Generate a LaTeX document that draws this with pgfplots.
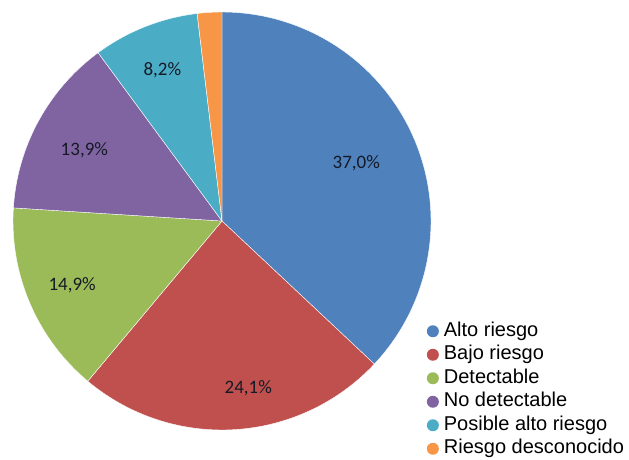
\documentclass[border=0pt]{standalone}
\usepackage{pgfplots}
\pgfplotsset{compat=1.18}
\usepackage{fontspec}
\setmainfont{Liberation Sans}
\newfontfamily\calibri{Carlito}
\definecolor{c1}{HTML}{4F81BD}
\definecolor{c2}{HTML}{C0504D}
\definecolor{c3}{HTML}{9BBB59}
\definecolor{c4}{HTML}{8064A2}
\definecolor{c5}{HTML}{4BACC6}
\definecolor{c6}{HTML}{F79646}
\definecolor{lab}{HTML}{151A26}
% percentages
\def\pA{37.0}\def\pB{24.1}\def\pC{14.9}\def\pD{13.9}\def\pE{8.2}\def\pF{1.9}
\begin{document}
\begin{tikzpicture}
\useasboundingbox (0,0) rectangle (629pt,-460pt);
\pgfmathsetmacro{\sA}{90}
\pgfmathsetmacro{\eA}{\sA-3.6*\pA}
\pgfmathsetmacro{\eB}{\eA-3.6*\pB}
\pgfmathsetmacro{\eC}{\eB-3.6*\pC}
\pgfmathsetmacro{\eD}{\eC-3.6*\pD}
\pgfmathsetmacro{\eE}{\eD-3.6*\pE}
\pgfmathsetmacro{\eF}{\eE-3.6*\pF}
\begin{axis}[
  at={(222pt,-221pt)}, anchor=origin,
  x=209pt, y=209pt,
  xmin=-1, xmax=1, ymin=-1, ymax=1,
  hide axis, clip=false,
  legend image code/.code={\fill[#1, draw=none] (6pt,0pt) circle (6pt);},
  legend style={at={(axis cs:0.965,-0.462)}, anchor=north west,
    draw=none, fill=none,
    font=\fontsize{20}{24}\selectfont,
    nodes={text height=14.5pt, text depth=4.5pt, inner sep=2pt},
    row sep=0.5pt, column sep=3pt},
  legend cell align=left,
]
\addplot[fill=c1, draw=white, line width=0.4pt, domain=\eA:\sA, samples=90] ({cos(x)},{sin(x)}) -- (axis cs:0,0) -- cycle;
\addlegendentry{Alto riesgo}
\addplot[fill=c2, draw=white, line width=0.4pt, domain=\eB:\eA, samples=60] ({cos(x)},{sin(x)}) -- (axis cs:0,0) -- cycle;
\addlegendentry{Bajo riesgo}
\addplot[fill=c3, draw=white, line width=0.4pt, domain=\eC:\eB, samples=40] ({cos(x)},{sin(x)}) -- (axis cs:0,0) -- cycle;
\addlegendentry{Detectable}
\addplot[fill=c4, draw=white, line width=0.4pt, domain=\eD:\eC, samples=40] ({cos(x)},{sin(x)}) -- (axis cs:0,0) -- cycle;
\addlegendentry{No detectable}
\addplot[fill=c5, draw=white, line width=0.4pt, domain=\eE:\eD, samples=30] ({cos(x)},{sin(x)}) -- (axis cs:0,0) -- cycle;
\addlegendentry{Posible alto riesgo}
\addplot[fill=c6, draw=white, line width=0.4pt, domain=\eF:\eE, samples=10] ({cos(x)},{sin(x)}) -- (axis cs:0,0) -- cycle;
\addlegendentry{Riesgo desconocido}
\tikzset{lbl/.style={font=\calibri\fontsize{19}{21}\selectfont, text=lab}}
\node[lbl] at (axis cs:{0.70*cos((\sA+\eA)/2)},{0.70*sin((\sA+\eA)/2)}) {37,0\%};
\node[lbl] at (axis cs:{0.81*cos((\eA+\eB)/2+5.5)},{0.81*sin((\eA+\eB)/2+5.5)}) {24,1\%};
\node[lbl] at (axis cs:{0.78*cos((\eB+\eC)/2)},{0.78*sin((\eB+\eC)/2)}) {14,9\%};
\node[lbl] at (axis cs:{0.74*cos((\eC+\eD)/2+1.5)},{0.74*sin((\eC+\eD)/2+1.5)}) {13,9\%};
\node[lbl] at (axis cs:{0.775*cos((\eD+\eE)/2)},{0.775*sin((\eD+\eE)/2)}) {8,2\%};
\end{axis}
\end{tikzpicture}
\end{document}
